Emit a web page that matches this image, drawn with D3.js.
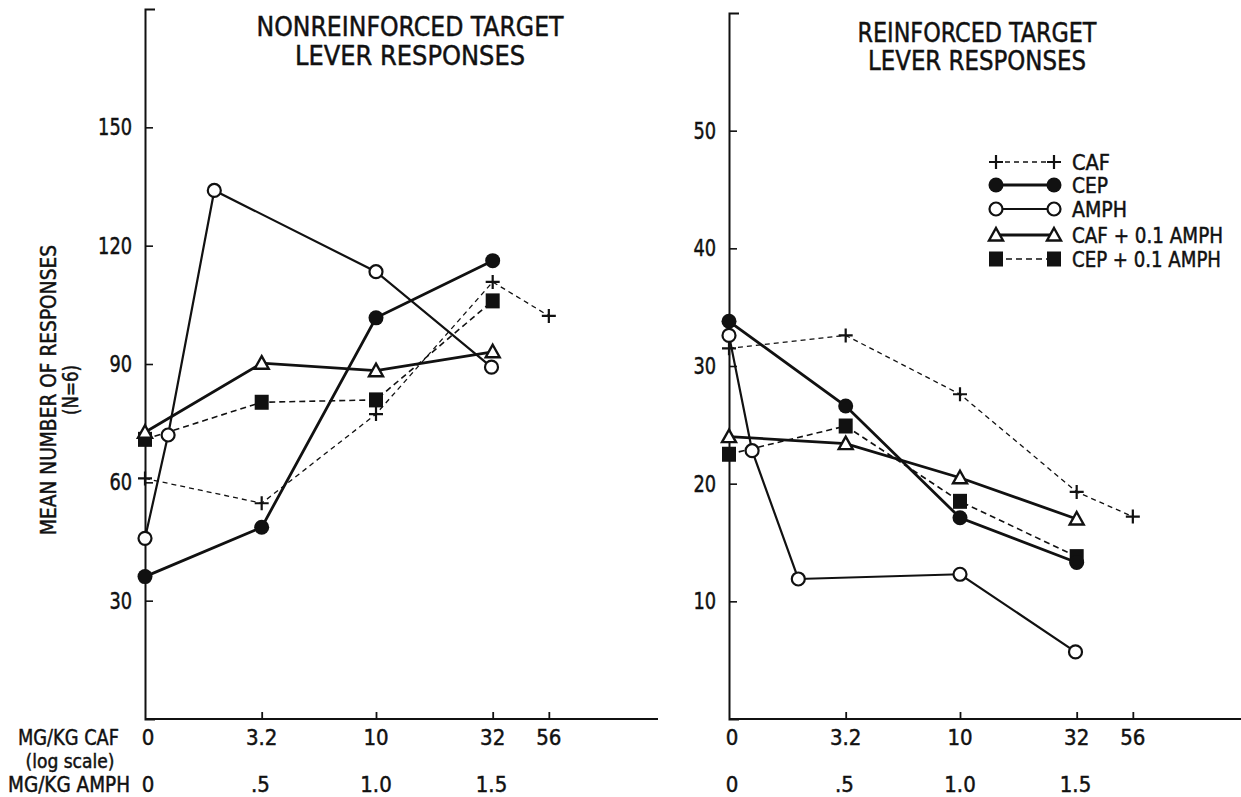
<!DOCTYPE html>
<html>
<head>
<meta charset="utf-8">
<script src="https://cdn.jsdelivr.net/npm/d3@7"></script>
<style>
  body { margin: 0; background: #fff; }
  svg text { font-family: "Liberation Sans Narrow", "DejaVu Sans Condensed", "Arial Narrow", sans-serif; fill: #111; stroke: #111; stroke-width: 0.45px; }
</style>
</head>
<body>
<div id="vis"></div>
<script>
// doses (mg/kg)
const cafDoses = [0, 3.2, 10, 32, 56];
const cepDoses = [0, 3.2, 10, 32];
const comboDoses = [0, 3.2, 10, 32];
const amphDoses = [0, 0.1, 0.3, 1.0, 1.5];

const cafTicks = [0, 3.2, 10, 32, 56];
const cafTickLabels = ["0", "3.2", "10", "32", "56"];
const amphTicks = [0, 0.5, 1.0, 1.5];
const amphTickLabels = ["0", ".5", "1.0", "1.5"];

// nonreinforced target lever responses
const cafNon = [61, 54.7, 77.3, 110.8, 102.2];
const cepNon = [36.1, 48.6, 101.7, 116.2];
const amphNon = [45.8, 72.0, 134.0, 113.4, 89.2];
const cafAmphNon = [72.7, 90.2, 88.3, 93.1];
const cepAmphNon = [70.9, 80.3, 80.9, 106.0];

// reinforced target lever responses
const cafRein = [31.5, 32.6, 27.6, 19.3, 17.2];
const cepRein = [33.8, 26.6, 17.1, 13.3];
const amphRein = [32.6, 22.8, 11.9, 12.3, 5.7];
const cafAmphRein = [24.0, 23.4, 20.5, 17.0];
const cepAmphRein = [22.5, 24.9, 18.5, 13.8];

const nonTicks = [30, 60, 90, 120, 150];
const reinTicks = [10, 20, 30, 40, 50];

const legendNames = ["CAF", "CEP", "AMPH", "CAF + 0.1 AMPH", "CEP + 0.1 AMPH"];

const WIDTH = 1241, HEIGHT = 797;
const BASE = 719;

const svg = d3.select("#vis").append("svg")
  .attr("width", WIDTH)
  .attr("height", HEIGHT);

// series styles
const styles = {
  caf:     {marker: "plus",     dash: "5,4", width: 1.3},
  cep:     {marker: "dot",      dash: null,  width: 2.8},
  amph:    {marker: "circle",   dash: null,  width: 2.2},
  cafAmph: {marker: "triangle", dash: null,  width: 2.8},
  cepAmph: {marker: "square",   dash: "6,4", width: 1.6}
};

function drawMarker(g, type, x, y) {
  if (type === "plus") {
    g.append("path")
      .attr("d", `M${x-7},${y}H${x+7}M${x},${y-7}V${y+7}`)
      .attr("stroke", "#111").attr("stroke-width", 2.2).attr("fill", "none");
  } else if (type === "dot") {
    g.append("circle").attr("cx", x).attr("cy", y).attr("r", 7.5).attr("fill", "#111");
  } else if (type === "circle") {
    g.append("circle").attr("cx", x).attr("cy", y).attr("r", 6.5)
      .attr("fill", "#fff").attr("stroke", "#111").attr("stroke-width", 2.2);
  } else if (type === "triangle") {
    g.append("path")
      .attr("d", `M${x},${y-7}L${x+7},${y+5.5}L${x-7},${y+5.5}Z`)
      .attr("fill", "#fff").attr("stroke", "#111").attr("stroke-width", 2.4);
  } else if (type === "square") {
    g.append("rect").attr("x", x-7).attr("y", y-7.5).attr("width", 14).attr("height", 15)
      .attr("fill", "#111");
  }
}

// text squeezed to the width it has in the original
function label(g, x, y, txt, size, anchor, len) {
  const t = g.append("text")
    .attr("x", x).attr("y", y)
    .attr("text-anchor", anchor)
    .attr("font-size", size)
    .text(txt);
  if (len) t.attr("textLength", len).attr("lengthAdjust", "spacingAndGlyphs");
  return t;
}

function drawPanel(p) {
  const g = svg.append("g");
  const y = d3.scaleLinear().domain([0, p.ymax]).range([BASE, p.top]);
  const xCaf = d3.scaleLog().domain([1, 10]).range([p.x0, p.x0 + 231]);
  const xc = d => xCaf(Math.max(d, 1));
  const xAmph = d3.scaleLinear().domain([0, 1]).range([p.x0, p.x0 + 231]);

  // y axis
  const yAxis = g.append("g")
    .attr("transform", `translate(${p.x0},0)`)
    .call(d3.axisLeft(y).tickValues(p.yTicks).tickSizeInner(-8).tickSizeOuter(-10).tickPadding(13));
  yAxis.select(".domain").attr("stroke-width", 2).attr("stroke", "#111");
  yAxis.selectAll(".tick line").attr("stroke-width", 1.6).attr("stroke", "#111");
  yAxis.selectAll(".tick text").attr("font-size", 23).attr("fill", "#111")
    .attr("textLength", d => String(d).length * 11.3).attr("lengthAdjust", "spacingAndGlyphs")
    .style("font-family", "'Liberation Sans Narrow', 'DejaVu Sans Condensed', sans-serif");

  // x axis
  const xAxis = g.append("g")
    .attr("transform", `translate(0,${BASE})`)
    .call(d3.axisBottom(xCaf).tickValues([3.2, 10, 32, 56]).tickSizeInner(-7).tickSizeOuter(0).tickFormat(""));
  xAxis.select(".domain").remove();
  xAxis.selectAll(".tick line").attr("stroke-width", 1.8).attr("stroke", "#111");
  g.append("line")
    .attr("x1", p.x0).attr("x2", p.xEnd).attr("y1", BASE).attr("y2", BASE)
    .attr("stroke", "#111").attr("stroke-width", 2);

  // x tick labels, two rows
  cafTicks.forEach((d, i) => {
    label(g, xc(d) + (d === 0 ? 3 : 0), 745, cafTickLabels[i], 22, "middle");
  });
  amphTicks.forEach((d, i) => {
    label(g, xAmph(d) + (d === 0 ? 3 : 0), 792, amphTickLabels[i], 22, "middle");
  });

  // title
  p.title.forEach((t, i) => {
    label(g, p.titleX, p.titleY[i], t, 27, "middle", p.titleLen[i]);
  });

  const series = [
    {key: "caf", xs: cafDoses, vals: p.data.caf, sx: xc},
    {key: "cepAmph", xs: comboDoses, vals: p.data.cepAmph, sx: xc},
    {key: "cafAmph", xs: comboDoses, vals: p.data.cafAmph, sx: xc},
    {key: "amph", xs: amphDoses, vals: p.data.amph, sx: xAmph},
    {key: "cep", xs: cepDoses, vals: p.data.cep, sx: xc}
  ];

  const line = d3.line();
  series.forEach(s => {
    const pts = s.vals.map((v, i) => [s.sx(s.xs[i]), y(v)]);
    g.append("path")
      .attr("d", line(pts))
      .attr("fill", "none")
      .attr("stroke", "#111")
      .attr("stroke-width", styles[s.key].width)
      .attr("stroke-dasharray", styles[s.key].dash);
  });
  series.forEach(s => {
    s.vals.forEach((v, i) => drawMarker(g, styles[s.key].marker, s.sx(s.xs[i]), y(v)));
  });
}

drawPanel({
  x0: 145, xEnd: 658, top: 9, ymax: 180, yTicks: nonTicks,
  title: ["NONREINFORCED TARGET", "LEVER RESPONSES"], titleX: 410, titleY: [36, 65], titleLen: [307, 230],
  data: {caf: cafNon, cep: cepNon, amph: amphNon, cafAmph: cafAmphNon, cepAmph: cepAmphNon}
});

drawPanel({
  x0: 729, xEnd: 1241, top: 13, ymax: 60, yTicks: reinTicks,
  title: ["REINFORCED TARGET", "LEVER RESPONSES"], titleX: 977, titleY: [42, 70], titleLen: [239, 218],
  data: {caf: cafRein, cep: cepRein, amph: amphRein, cafAmph: cafAmphRein, cepAmph: cepAmphRein}
});

// y axis title
label(svg.append("g").attr("transform", "translate(56,390) rotate(-90)"),
  0, 0, "MEAN NUMBER OF RESPONSES", 21, "middle", 290);
label(svg.append("g").attr("transform", "translate(78,390) rotate(-90)"),
  0, 0, "(N=6)", 21, "middle", 50);

// x axis row labels
label(svg, 119, 745, "MG/KG CAF", 21, "end", 101);
label(svg, 70, 767.5, "(log scale)", 19, "middle", 89);
label(svg, 130, 792, "MG/KG AMPH", 21, "end", 122);

// legend
const legendKeys = ["caf", "cep", "amph", "cafAmph", "cepAmph"];
const legendY = [162, 185, 209, 235, 259];
const legendLen = [38, 36, 55, 151, 149];
const legend = svg.append("g");
legendKeys.forEach((k, i) => {
  const ly = legendY[i];
  const x1 = 996, x2 = 1054;
  legend.append("line")
    .attr("x1", x1).attr("x2", x2).attr("y1", ly).attr("y2", ly)
    .attr("stroke", "#111")
    .attr("stroke-width", styles[k].width)
    .attr("stroke-dasharray", styles[k].dash);
  drawMarker(legend, styles[k].marker, x1, ly);
  drawMarker(legend, styles[k].marker, x2, ly);
  label(legend, 1072, ly + 8, legendNames[i], 21, "start", legendLen[i]);
});
</script>
</body>
</html>
